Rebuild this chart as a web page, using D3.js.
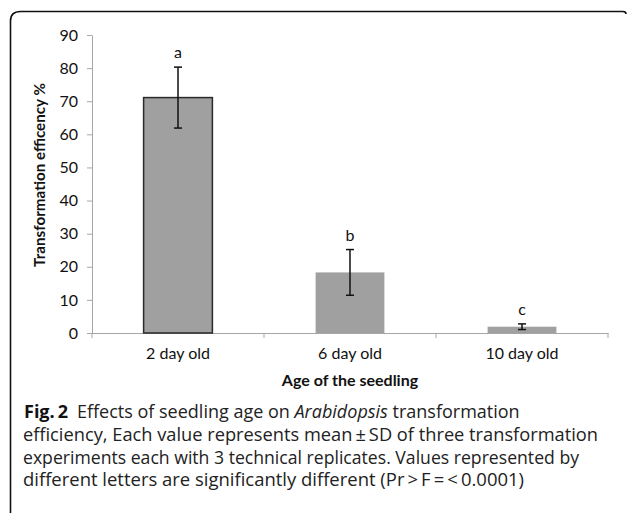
<!DOCTYPE html>
<html>
<head>
<meta charset="utf-8">
<script src="https://cdn.jsdelivr.net/npm/d3@7"></script>
<style>
  body { margin: 0; background: #fff; }
  svg { display: block; }
</style>
</head>
<body>
<div id="chart"></div>
<script>
// data
const ages = ['2 day old', '6 day old', '10 day old']
const meanEff = [71.1, 18.3, 1.9]
const sdEff = [9.2, 6.9, 0.85]
const letters = ['a', 'b', 'c']
const yTicks = [0, 10, 20, 30, 40, 50, 60, 70, 80, 90]
const captionLines = [
  'efficiency, Each value represents mean\u2009\u00b1\u2009SD of three transformation',
  'experiments each with 3 technical replicates. Values represented by',
  'different letters are significantly different (Pr\u2009>\u2009F\u2009=\u2009<\u20090.0001)'
]
const captionEnds = [598, 579, 524]

const W = 629, H = 513
const margin = {top: 35, right: 21, bottom: 180, left: 92}
const innerW = W - margin.left - margin.right
const innerH = H - margin.top - margin.bottom

const svg = d3.select('#chart').append('svg')
  .attr('width', W)
  .attr('height', H)

// figure frame
svg.append('path')
  .attr('d', 'M10.5,513 L10.5,21 Q10.5,11.5 20.5,11.5 L623,11.5 Q626,11.5 626,14')
  .attr('fill', 'none')
  .attr('stroke', '#111')
  .attr('stroke-width', 1.6)

const g = svg.append('g').attr('transform', `translate(${margin.left},${margin.top})`)

const x = d3.scaleBand().domain(ages).range([0, innerW])
const y = d3.scaleLinear().domain([0, 90]).range([innerH, 0])

const axisColor = '#a6a6a6'
const font = 'Lato, "Open Sans", sans-serif'

// y axis
const yAxis = g.append('g')
  .call(d3.axisLeft(y).tickValues(yTicks).tickSize(5).tickSizeOuter(0).tickPadding(9))
yAxis.select('.domain').attr('stroke', axisColor)
yAxis.selectAll('.tick line').attr('stroke', axisColor)
yAxis.selectAll('.tick text')
  .attr('font-family', font).attr('font-size', 16).attr('fill', '#111')

// x axis: labels from the band scale, ticks on band boundaries
const xAxis = g.append('g').attr('transform', `translate(0,${innerH})`)
  .call(d3.axisBottom(x).tickSize(0).tickPadding(15))
xAxis.select('.domain').attr('stroke', axisColor)
xAxis.selectAll('.tick text')
  .attr('font-family', font).attr('font-size', 16).attr('fill', '#111')
const bounds = ages.map(d => x(d)).concat([x.range()[1]])
xAxis.selectAll('line.bound')
  .data(bounds)
  .join('line')
  .attr('class', 'bound')
  .attr('x1', d => d).attr('x2', d => d)
  .attr('y1', 0).attr('y2', 5)
  .attr('stroke', axisColor)

// bars
const barW = x.bandwidth() * 0.4
g.selectAll('rect.bar')
  .data(ages)
  .join('rect')
  .attr('class', 'bar')
  .attr('x', d => x(d) + (x.bandwidth() - barW) / 2)
  .attr('y', (d, i) => y(meanEff[i]))
  .attr('width', barW)
  .attr('height', (d, i) => innerH - y(meanEff[i]))
  .attr('fill', '#a0a0a0')
  .attr('stroke', (d, i) => i === 0 ? '#2a2a2a' : 'none')
  .attr('stroke-width', 1.5)

// error bars
const cx = d => x(d) + x.bandwidth() / 2
const err = g.selectAll('g.err')
  .data(ages)
  .join('g')
  .attr('class', 'err')
err.append('line')
  .attr('x1', cx).attr('x2', cx)
  .attr('y1', (d, i) => y(meanEff[i] + sdEff[i]))
  .attr('y2', (d, i) => y(meanEff[i] - sdEff[i]))
err.selectAll('line.cap')
  .data((d, i) => [[d, meanEff[i] + sdEff[i]], [d, meanEff[i] - sdEff[i]]])
  .join('line')
  .attr('class', 'cap')
  .attr('x1', d => cx(d[0]) - 4).attr('x2', d => cx(d[0]) + 4)
  .attr('y1', d => y(d[1])).attr('y2', d => y(d[1]))
err.selectAll('line').attr('stroke', '#111').attr('stroke-width', 1.5)

// significance letters
g.selectAll('text.letter')
  .data(ages)
  .join('text')
  .attr('class', 'letter')
  .attr('x', cx)
  .attr('y', (d, i) => y(meanEff[i] + sdEff[i]) - 9)
  .attr('text-anchor', 'middle')
  .attr('font-family', font).attr('font-size', 16).attr('fill', '#111')
  .text((d, i) => letters[i])

// axis titles
g.append('text')
  .attr('transform', `translate(-47,${innerH / 2 - 9}) rotate(-90)`)
  .attr('text-anchor', 'middle')
  .attr('font-family', font).attr('font-size', 15.2).attr('font-weight', 'bold').attr('fill', '#111')
  .text('Transformation efficency %')
g.append('text')
  .attr('x', innerW / 2)
  .attr('y', innerH + 53)
  .attr('text-anchor', 'middle')
  .attr('font-family', font).attr('font-size', 16).attr('font-weight', 'bold').attr('fill', '#111')
  .text('Age of the seedling')

// caption
const capFont = '"Open Sans", sans-serif'
const cap1 = svg.append('text')
  .attr('x', 24).attr('y', 418)
  .attr('font-family', capFont).attr('font-size', 18).attr('fill', '#222')
cap1.append('tspan').attr('font-weight', 'bold').attr('fill', '#111').text('Fig.\u20092')
cap1.append('tspan').text('\u2002Effects of seedling age on ')
cap1.append('tspan').attr('font-style', 'italic').text('Arabidopsis')
cap1.append('tspan').text(' transformation')

svg.selectAll('text.cap')
  .data(captionLines)
  .join('text')
  .attr('class', 'cap')
  .attr('x', 23)
  .attr('y', (d, i) => 441 + i * 22.7)
  .attr('textLength', (d, i) => captionEnds[i] - 23)
  .attr('lengthAdjust', 'spacingAndGlyphs')
  .attr('font-family', capFont).attr('font-size', 18).attr('fill', '#222')
  .text(d => d)
</script>
</body>
</html>
